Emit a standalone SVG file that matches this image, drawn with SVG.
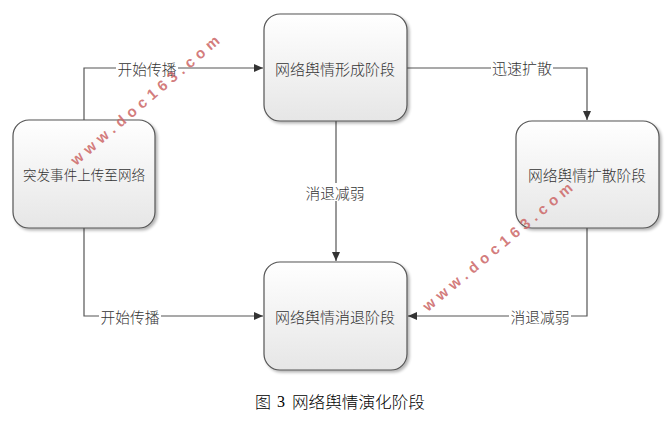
<svg xmlns="http://www.w3.org/2000/svg" width="671" height="424" viewBox="0 0 671 424">
<defs>
<linearGradient id="g" x1="0" y1="0" x2="0" y2="1">
<stop offset="0" stop-color="#ffffff"/>
<stop offset="1" stop-color="#e6e6e6"/>
</linearGradient>
<filter id="sh" x="-10%" y="-10%" width="125%" height="125%">
<feGaussianBlur in="SourceAlpha" stdDeviation="1.5"/>
<feOffset dx="2" dy="2"/>
<feComponentTransfer><feFuncA type="linear" slope="0.3"/></feComponentTransfer>
<feMerge><feMergeNode/><feMergeNode in="SourceGraphic"/></feMerge>
</filter>
<marker id="arr" markerWidth="10" markerHeight="8" refX="9" refY="4" orient="auto" markerUnits="userSpaceOnUse">
<path d="M0,0 L9,4 L0,8 Z" fill="#333"/>
</marker>
</defs>
<style>
.node rect{fill:url(#g);stroke:#555;stroke-width:1.2;filter:url(#sh)}
.nt{font-family:"Noto Sans CJK SC","Liberation Sans",sans-serif;font-size:15px;font-weight:300;fill:#333;text-anchor:middle;dominant-baseline:central}
.edge{fill:none;stroke:#555;stroke-width:1.2}
.lbg{fill:#fff}
.lt{font-family:"Noto Sans CJK SC","Liberation Sans",sans-serif;font-size:14.5px;font-weight:300;fill:#333;text-anchor:middle;dominant-baseline:central}
.wm{font-family:"Liberation Sans",sans-serif;font-size:15px;font-weight:bold;fill:#cc6666;fill-opacity:0.85;letter-spacing:5px}
.cap{font-family:"Noto Sans CJK SC","Liberation Serif",serif;font-size:16px;font-weight:300;fill:#000;dominant-baseline:central}
</style>
<rect width="671" height="424" fill="#fff"/>
<g id="connectors">
<path class="edge" d="M84,120 V68 H263" marker-end="url(#arr)"/>
<path class="edge" d="M84,228 V316 H263" marker-end="url(#arr)"/>
<path class="edge" d="M407,68 H587 V120" marker-end="url(#arr)"/>
<path class="edge" d="M336,121 V261" marker-end="url(#arr)"/>
<path class="edge" d="M587,228 V316 H408" marker-end="url(#arr)"/>
<rect class="lbg" x="116" y="59" width="62" height="18"/>
<text class="lt" x="147" y="68" textLength="59" lengthAdjust="spacingAndGlyphs">开始传播</text>
<rect class="lbg" x="99" y="307" width="62" height="18"/>
<text class="lt" x="130" y="316" textLength="59" lengthAdjust="spacingAndGlyphs">开始传播</text>
<rect class="lbg" x="491" y="58" width="62" height="18"/>
<text class="lt" x="522" y="67" textLength="60" lengthAdjust="spacingAndGlyphs">迅速扩散</text>
<rect class="lbg" x="304" y="183" width="62" height="18"/>
<text class="lt" x="335" y="192" textLength="59" lengthAdjust="spacingAndGlyphs">消退减弱</text>
<rect class="lbg" x="509" y="307" width="62" height="18"/>
<text class="lt" x="540" y="316" textLength="59" lengthAdjust="spacingAndGlyphs">消退减弱</text>
</g>
<g id="n1" class="node">
<rect x="13" y="120" width="142" height="108" rx="16" ry="16"/>
<text class="nt" x="84" y="174" textLength="122" lengthAdjust="spacingAndGlyphs" style="font-size:14px">突发事件上传至网络</text>
</g>
<g id="n2" class="node">
<rect x="264" y="14" width="143" height="107" rx="16" ry="16"/>
<text class="nt" x="335" y="68" textLength="120" lengthAdjust="spacingAndGlyphs">网络舆情形成阶段</text>
</g>
<g id="n3" class="node">
<rect x="516" y="121" width="143" height="107" rx="16" ry="16"/>
<text class="nt" x="587" y="174" textLength="118" lengthAdjust="spacingAndGlyphs">网络舆情扩散阶段</text>
</g>
<g id="n4" class="node">
<rect x="264" y="262" width="143" height="108" rx="16" ry="16"/>
<text class="nt" x="335" y="316" textLength="120" lengthAdjust="spacingAndGlyphs">网络舆情消退阶段</text>
</g>
<text class="wm" transform="translate(76,166) rotate(-40.5)">www.doc163.com</text>
<text class="wm" transform="translate(428,312) rotate(-40)">www.doc163.com</text>
<text class="cap" y="401"><tspan x="255">图</tspan><tspan x="277" font-family="Liberation Serif">3</tspan><tspan x="292" textLength="133" lengthAdjust="spacingAndGlyphs">网络舆情演化阶段</tspan></text>
</svg>
